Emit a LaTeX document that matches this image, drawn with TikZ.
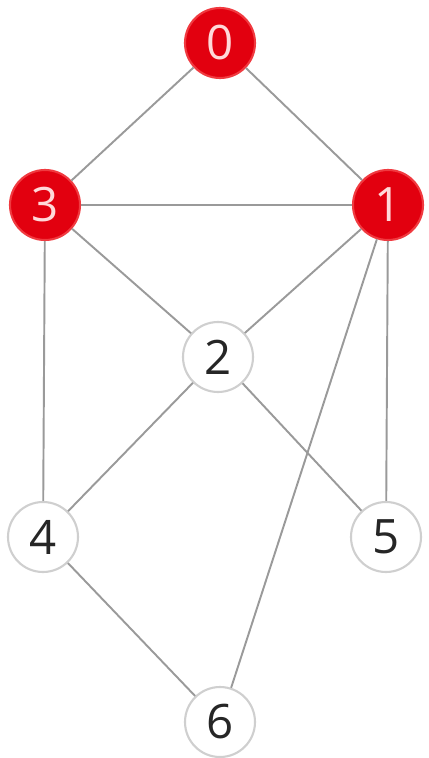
\documentclass[tikz,border=0pt]{standalone}
\usepackage{fontspec}
\setmainfont{Open Sans}
\usetikzlibrary{arrows.meta, positioning}
\definecolor{knotrot}{HTML}{E2000F}
\definecolor{randrot}{HTML}{F03A40}
\definecolor{kante}{HTML}{9A9A9A}
\definecolor{rand}{HTML}{CFCFCF}

\begin{document}
\begin{tikzpicture}[
        vtx/.style={circle, draw=rand, line width=1.2pt, fill=white,
                    minimum size=1.4cm, inner sep=0pt, text=black!85,
                    font=\fontsize{27}{30}\selectfont},
        hot/.style={vtx, draw=randrot, fill=knotrot, text=white!85!red},
        edge/.style={draw=kante, line width=1.1pt}
      ]
      \useasboundingbox (0,0) rectangle (8.58,-15.16);

      % ── Knoten: gefärbt ──
      \node[hot] (n0) at (4.40,-0.86)  {0};
      \node[hot] (n3) at (0.90,-4.10)  {3};
      \node[hot] (n1) at (7.76,-4.10)  {1};

      % ── Knoten: ungefärbt ──
      \node[vtx] (n2) at (4.36,-7.14)  {2};
      \node[vtx] (n4) at (0.86,-10.74) {4};
      \node[vtx] (n5) at (7.72,-10.74) {5};
      \node[vtx] (n6) at (4.40,-14.44) {6};

      % ── Kanten ──
      \foreach \a/\b in {n0/n3, n0/n1, n3/n1, n3/n2, n3/n4, n1/n2,
                         n1/n5, n1/n6, n2/n4, n2/n5, n4/n6}
        \draw[edge] (\a) -- (\b);
    \end{tikzpicture}
\end{document}
